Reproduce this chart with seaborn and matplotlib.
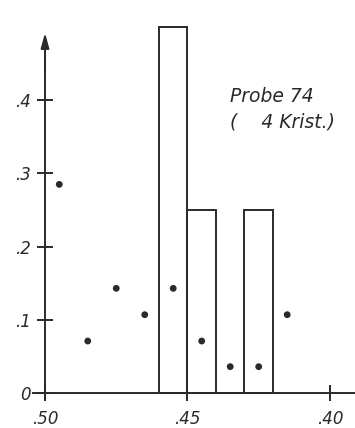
import numpy as np
import pandas as pd
import matplotlib
matplotlib.use("Agg")
import matplotlib.pyplot as plt
import seaborn as sns

# histogram bars (bin centres, heights)
bar_centers = [0.455, 0.445, 0.425]
bar_heights = [0.50, 0.25, 0.25]
bin_edges = [0.42, 0.43, 0.44, 0.45, 0.46]

# dots
dot_x = [0.495, 0.485, 0.475, 0.465, 0.455, 0.445, 0.435, 0.425, 0.415]
dot_y = [0.285, 0.071, 0.143, 0.107, 0.143, 0.071, 0.036, 0.036, 0.107]

yticks = [0, 0.1, 0.2, 0.3, 0.4]
ytick_labels = ["0", ".1", ".2", ".3", ".4"]
xticks = [0.50, 0.45, 0.40]
xtick_labels = [".50", ".45", ".40"]

sns.set_style("white")
plt.rcParams["font.family"] = ["DejaVu Sans"]
plt.rcParams["font.style"] = "italic"

ink = "#2a2a2a"

fig = plt.figure(figsize=(3.55, 4.28), dpi=100)
ax = fig.add_axes([0, 0, 1, 1])
ax.patch.set_alpha(0)

bars = pd.DataFrame({"d": bar_centers, "w": bar_heights})
sns.histplot(data=bars, x="d", weights="w", bins=bin_edges, fill=False,
             color=ink, linewidth=1.4, ax=ax)

dots = pd.DataFrame({"x": dot_x, "y": dot_y})
sns.scatterplot(data=dots, x="x", y="y", color=ink, s=24,
                edgecolor="none", ax=ax)

ax.set_xlim(0.5158, 0.3912)
ax.set_ylim(-0.0478, 0.5369)

for s in ["top", "right"]:
    ax.spines[s].set_visible(False)
ax.spines["left"].set_position(("data", 0.50))
ax.spines["bottom"].set_position(("data", 0))
ax.spines["left"].set_bounds(-0.01, 0.47)
ax.spines["bottom"].set_bounds(0.5043, 0.3912)
for s in ["left", "bottom"]:
    ax.spines[s].set_color(ink)
    ax.spines[s].set_linewidth(1.4)

ax.annotate("", xy=(0.50, 0.492), xytext=(0.50, 0.44),
            arrowprops=dict(arrowstyle="-|>,head_length=0.9,head_width=0.25",
                            color=ink, lw=1.4, shrinkA=0, shrinkB=0))

ax.set_yticks(yticks)
ax.set_yticklabels(ytick_labels)
ax.set_xticks(xticks)
ax.set_xticklabels(xtick_labels)
ax.tick_params(axis="both", direction="inout", length=11, width=1.4,
               color=ink, labelcolor=ink, labelsize=12,
               bottom=True, left=True)
ax.tick_params(axis="y", pad=5)
ax.tick_params(axis="x", pad=7)
ax.set_xlabel("")
ax.set_ylabel("")
ax.grid(False)

ax.text(0.4351, 0.398, "Probe 74", fontsize=13.5, style="italic",
        color=ink, ha="left", va="baseline")
ax.text(0.4351, 0.3624, "(    4 Krist.)", fontsize=13.5, style="italic",
        color=ink, ha="left", va="baseline")

fig.savefig("out.png", dpi=100)
